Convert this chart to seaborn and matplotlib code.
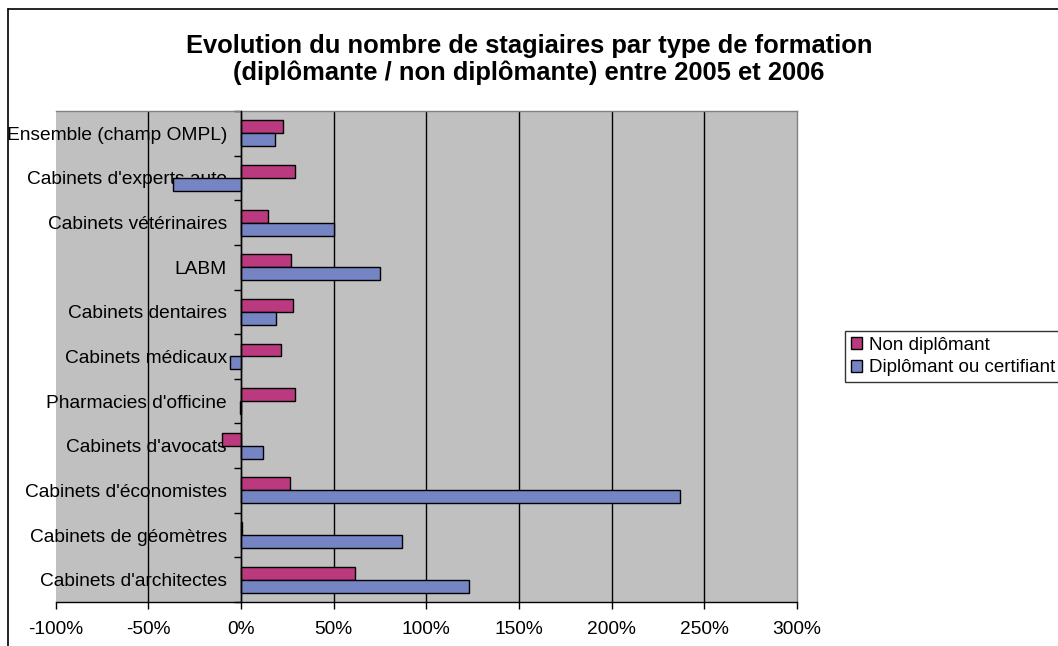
import numpy as np
import pandas as pd
import seaborn as sns
import matplotlib.pyplot as plt
from matplotlib.ticker import FixedLocator, FuncFormatter

categories = ["Ensemble (champ OMPL)", "Cabinets d'experts auto", "Cabinets vétérinaires",
              "LABM", "Cabinets dentaires", "Cabinets médicaux", "Pharmacies d'officine",
              "Cabinets d'avocats", "Cabinets d'économistes", "Cabinets de géomètres",
              "Cabinets d'architectes"]
non_diplomant = [22.8, 29.3, 14.7, 27.3, 27.9, 21.4, 29.3, -10.0, 26.4, 0.7, 61.5]
diplomant = [18.5, -36.5, 50.0, 75.3, 19.0, -5.9, -0.5, 11.7, 236.7, 87.0, 123.3]
series = ["Non diplômant", "Diplômant ou certifiant"]
colors = ["#BB3A7F", "#7585C4"]

df = pd.DataFrame({
    "categorie": categories * 2,
    "valeur": non_diplomant + diplomant,
    "type": [series[0]] * len(categories) + [series[1]] * len(categories),
})

sns.set_style("white")
plt.rcParams['font.family'] = ['Liberation Sans', 'DejaVu Sans']
plt.rcParams['text.color'] = 'black'
plt.rcParams['xtick.color'] = 'black'
plt.rcParams['ytick.color'] = 'black'

fig = plt.figure(figsize=(10.58, 6.46), dpi=100)
ax = fig.add_axes([55.5 / 1058, 44 / 646, 741.5 / 1058, 491 / 646])
ax.set_facecolor("#C0C0C0")

sns.barplot(data=df, x="valeur", y="categorie", hue="type", hue_order=series,
            palette=colors, orient="h", width=0.58, saturation=1,
            edgecolor="black", linewidth=1, ax=ax)

ax.set_xlim(-100, 300)
ax.set_ylim(len(categories) - 0.5, -0.5)
ax.set_xticks(np.arange(-100, 301, 50))
ax.xaxis.set_major_formatter(FuncFormatter(lambda v, p: f"{int(v)}%"))
ax.set_xlabel("")
ax.set_ylabel("")

ax.set_axisbelow(True)
ax.xaxis.grid(True, color="black", linewidth=1)
gl = ax.get_xgridlines()
gl[0].set_visible(False)
gl[-1].set_visible(False)

ax.spines['left'].set_position(('data', 0))
ax.spines['left'].set_color("black")
ax.spines['bottom'].set_color("black")
ax.spines['top'].set_color("#808080")
ax.spines['right'].set_color("#808080")
for s in ax.spines.values():
    s.set_linewidth(1)
ax.spines['left'].set_zorder(3)

ax.yaxis.set_minor_locator(FixedLocator(np.arange(-0.5, len(categories), 1)))
ax.tick_params(axis='y', which='major', length=0, pad=10, labelsize=13.8, labelcolor='black')
ax.tick_params(axis='y', which='minor', length=5, direction='out', color='black', width=1)
ax.tick_params(axis='x', length=5, direction='out', color='black', width=1, labelsize=13.8,
               pad=9, labelcolor='black')
ax.tick_params(axis='x', which='both', bottom=True)
ax.tick_params(axis='y', which='both', left=True)

fig.suptitle("Evolution du nombre de stagiaires par type de formation\n"
             "(diplômante / non diplômante) entre 2005 et 2006",
             x=0.5, y=1 - 34 / 646, fontsize=18.4, fontweight="bold", va="top",
             linespacing=1.15, color="black")

leg = ax.legend(loc="upper left", bbox_to_anchor=(845 / 1058, 1 - 331 / 646),
                bbox_transform=fig.transFigure, frameon=True, fancybox=False,
                fontsize=13.5, handlelength=0.6, handleheight=0.6, handletextpad=0.4,
                borderpad=0.3, labelspacing=0.3, borderaxespad=0)
leg.get_frame().set_edgecolor("black")
leg.get_frame().set_linewidth(1)
for t in leg.get_texts():
    t.set_color("black")

fig.add_artist(plt.Line2D([8 / 1058, 8 / 1058], [0, 1 - 9 / 646], color="black", lw=1.2,
                          transform=fig.transFigure))
fig.add_artist(plt.Line2D([8 / 1058, 1], [1 - 9 / 646, 1 - 9 / 646], color="black", lw=1.2,
                          transform=fig.transFigure))

fig.savefig("out.png", dpi=100)
